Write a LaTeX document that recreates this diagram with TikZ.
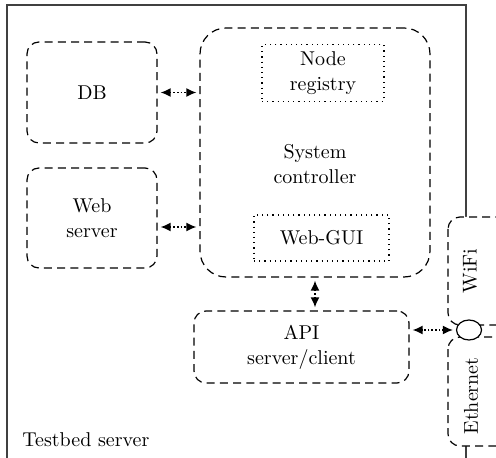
\documentclass[tikz,border=0pt]{standalone}
\usetikzlibrary{arrows.meta,shapes.geometric}
\tikzset{
  box/.style={draw, dashed, dash pattern=on 4pt off 2.6pt, line width=0.6pt, rounded corners=6pt, fill=white, align=center},
  subbox/.style={draw, dotted, line width=0.6pt, align=center},
  link/.style={densely dotted, line width=0.8pt, {Latex[length=5pt,width=4.5pt]}-{Latex[length=5pt,width=4.5pt]}, shorten <=1.5pt, shorten >=1.5pt},
  txt/.style={align=center}
}
\begin{document}
\begin{tikzpicture}[x=0.5pt,y=-0.5pt,font=\fontsize{10}{12.5}\selectfont]
                      \useasboundingbox (0,0) rectangle (496,458);
                      \clip (0,0) rectangle (496,458);
                      \draw[line width=0.8pt, black!75] (7,5) rectangle (466,480);
                      \node[box, minimum width=65pt, minimum height=50.5pt] (db) at (92,92.5) {DB};
                      \node[box, minimum width=65pt, minimum height=50pt] (web) at (92,218) {Web\\server};
                      \node[box, rounded corners=13pt, minimum width=115pt, minimum height=124.5pt] (ctrl) at (315,152.5) {};
                      \node[txt] (ctrltext) at (315,164) {System\\controller};
                      \node[subbox, minimum width=61pt, minimum height=25pt] (reg) at (323,73) {Node\\registry};
                      \node[subbox, minimum width=67.5pt, minimum height=23pt] (gui) at (321.5,238) {Web-GUI};
                      \node[box, minimum width=107.5pt, minimum height=36pt] (api) at (301.5,347) {API\\server/client};
                      \draw[box] (448,217) rectangle (540,325);
                      \draw[box] (448,337) rectangle (540,446);
                      \node[txt, rotate=90] (wifi) at (470,271) {WiFi};
                      \node[txt, rotate=90] (eth) at (471,396) {Ethernet};
                      \node[ellipse, draw, fill=white, line width=0.6pt, minimum width=12.5pt, minimum height=10pt, inner sep=0pt] (port) at (469,330) {};
                      \draw[link] (db.east) -- (db.east -| ctrl.west);
                      \draw[link] ([yshift=-4.5pt]web.east) -- ([yshift=-4.5pt]web.east -| ctrl.west);
                      \draw[link] (ctrl.south) -- (ctrl.south |- api.north);
                      \draw[link] (port.west) -- (port.west -| api.east);
                      \node[anchor=base west, inner sep=0pt] (label) at (22,446) {Testbed server};
                    \end{tikzpicture}
\end{document}
